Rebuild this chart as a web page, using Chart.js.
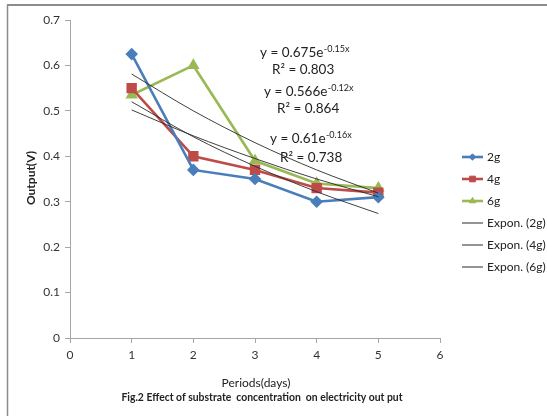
<!DOCTYPE html>
<html>
<head>
<meta charset="utf-8">
<script src="https://cdn.jsdelivr.net/npm/chart.js@4.4.1/dist/chart.umd.min.js"></script>
<style>
html,body{margin:0;padding:0;background:#fff;}
#wrap{width:547px;height:416px;position:relative;}
</style>
</head>
<body>
<div id="wrap"><canvas id="c" width="547" height="416"></canvas></div>
<script>
// ---- data ----
const periods = [1, 2, 3, 4, 5];
const series2g = [0.625, 0.37, 0.35, 0.30, 0.31];
const series4g = [0.55, 0.40, 0.37, 0.33, 0.32];
const series6g = [0.535, 0.60, 0.39, 0.34, 0.33];
// exponential trendline values at each period
const trend2g = [0.520, 0.443, 0.378, 0.322, 0.274];
const trend4g = [0.502, 0.445, 0.395, 0.350, 0.311];
const trend6g = [0.581, 0.500, 0.430, 0.370, 0.319];
const xTicks = [0, 1, 2, 3, 4, 5, 6];
const yTicks = [0, 0.1, 0.2, 0.3, 0.4, 0.5, 0.6, 0.7];
const seriesNames = ['2g', '4g', '6g', 'Expon. (2g)', 'Expon. (4g)', 'Expon. (6g)'];
const equations = [
  {base: 'y = 0.675e', exp: '-0.15x', r2: '0.803'},
  {base: 'y = 0.566e', exp: '-0.12x', r2: '0.864'},
  {base: 'y = 0.61e', exp: '-0.16x', r2: '0.738'}
];

const FONT = 'Lato, "Open Sans", sans-serif';
const pts = (ys) => periods.map((x, i) => ({x: x, y: ys[i]}));

const blue = '#4A7EBB', red = '#BE4B48', green = '#98B954';

const datasets = [
  {label: seriesNames[0], data: pts(series2g), borderColor: blue, backgroundColor: blue, borderWidth: 2.6,
   pointStyle: 'rectRot', pointRadius: 4.5, legendRadius: 3.2, order: 1},
  {label: seriesNames[1], data: pts(series4g), borderColor: red, backgroundColor: red, borderWidth: 2.6,
   pointStyle: 'rect', pointRadius: 5.5, legendRadius: 4, order: 2},
  {label: seriesNames[2], data: pts(series6g), borderColor: green, backgroundColor: green, borderWidth: 2.6,
   pointStyle: 'triangle', pointRadius: 4.6, legendRadius: 3.6, order: 3},
  {label: seriesNames[3], data: pts(trend2g), borderColor: '#2a2a2a', borderWidth: 0.9, pointRadius: 0, order: 0, cubicInterpolationMode: 'monotone'},
  {label: seriesNames[4], data: pts(trend4g), borderColor: '#2a2a2a', borderWidth: 0.9, pointRadius: 0, order: 0, cubicInterpolationMode: 'monotone'},
  {label: seriesNames[5], data: pts(trend6g), borderColor: '#2a2a2a', borderWidth: 0.9, pointRadius: 0, order: 0, cubicInterpolationMode: 'monotone'}
];

const decor = {
  id: 'decor',
  afterDraw(chart) {
    const ctx = chart.ctx;
    ctx.save();
    // frame (top and left)
    ctx.strokeStyle = '#8c8c8c';
    ctx.lineWidth = 2;
    ctx.beginPath(); ctx.moveTo(7, 5); ctx.lineTo(547, 5); ctx.stroke();
    ctx.lineWidth = 1.5;
    ctx.beginPath(); ctx.moveTo(7.5, 5); ctx.lineTo(7.5, 416); ctx.stroke();

    ctx.fillStyle = '#222';
    ctx.textBaseline = 'middle';
    // y title
    ctx.save();
    ctx.translate(31, 178);
    ctx.rotate(-Math.PI / 2);
    ctx.textAlign = 'center';
    ctx.font = 'bold 12px ' + FONT;
    ctx.fillText('Output(V)', 0, 0);
    ctx.restore();
    // x title
    ctx.textAlign = 'center';
    ctx.font = '12px ' + FONT;
    ctx.fillText('Periods(days)', 256, 383);
    ctx.font = 'bold 10.4px ' + FONT;
    ctx.fillText('Fig.2 Effect of substrate  concentration  on electricity out put', 262, 398);

    // equations
    const eqPos = [[260, 53, 272, 70], [264, 92, 277, 109], [270, 139, 280, 158]];
    equations.forEach((e, i) => {
      const p = eqPos[i];
      ctx.textAlign = 'left';
      ctx.font = '13.5px ' + FONT;
      ctx.fillText(e.base, p[0], p[1]);
      const w = ctx.measureText(e.base).width;
      ctx.font = '9px ' + FONT;
      ctx.fillText(e.exp, p[0] + w + 0.5, p[1] - 4);
      ctx.font = '13.5px ' + FONT;
      ctx.fillText('R² = ' + e.r2, p[2], p[3]);
    });

    // legend
    const ly = [157, 179, 201, 223, 245, 267];
    chart.data.datasets.forEach((ds, i) => {
      const y = ly[i];
      ctx.strokeStyle = ds.borderColor;
      ctx.lineWidth = i < 3 ? 2.6 : 1;
      ctx.beginPath(); ctx.moveTo(462, y); ctx.lineTo(483, y); ctx.stroke();
      if (i < 3) {
        ctx.fillStyle = ds.backgroundColor;
        ctx.strokeStyle = ds.borderColor;
        ctx.lineWidth = 1;
        Chart.helpers.drawPoint(ctx, {pointStyle: ds.pointStyle, radius: ds.legendRadius, borderWidth: 1, rotation: 0}, 472.5, y);
      }
      ctx.fillStyle = '#222';
      ctx.textAlign = 'left';
      ctx.font = '12px ' + FONT;
      ctx.fillText(ds.label, 487, y);
    });
    ctx.restore();
  }
};

new Chart(document.getElementById('c'), {
  type: 'line',
  data: {datasets: datasets},
  options: {
    responsive: false,
    animation: false,
    devicePixelRatio: 1,
    layout: {padding: {left: 0, right: 107, top: 20, bottom: 0}},
    plugins: {legend: {display: false}, tooltip: {enabled: false}},
    elements: {line: {tension: 0}},
    scales: {
      x: {
        type: 'linear', min: 0, max: 6,
        afterBuildTicks: (s) => { s.ticks = xTicks.map(v => ({value: v})); },
        afterFit: (s) => { s.height = 78; },
        grid: {drawOnChartArea: false, drawTicks: true, tickLength: 5, color: '#a6a6a6'},
        border: {color: '#a6a6a6', width: 1},
        ticks: {color: '#333', font: {family: FONT, size: 12}, padding: 5, callback: (v) => String(v)}
      },
      y: {
        type: 'linear', min: 0, max: 0.7,
        afterBuildTicks: (s) => { s.ticks = yTicks.map(v => ({value: v})); },
        afterFit: (s) => { s.width = 70; },
        grid: {drawOnChartArea: false, drawTicks: true, tickLength: 5, color: '#a6a6a6'},
        border: {color: '#a6a6a6', width: 1},
        ticks: {color: '#333', font: {family: FONT, size: 12}, padding: 5, callback: (v) => String(Number(v.toFixed(1)))}
      }
    }
  },
  plugins: [decor]
});
</script>
</body>
</html>
